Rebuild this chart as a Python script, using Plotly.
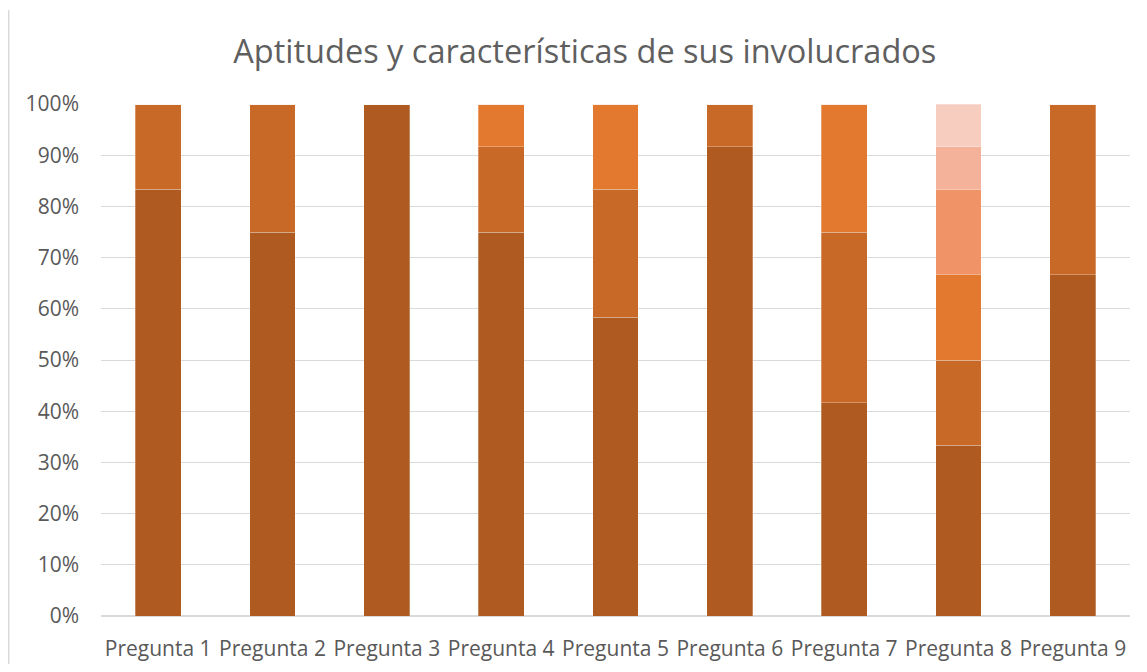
import plotly.graph_objects as go

categories = ["Pregunta 1", "Pregunta 2", "Pregunta 3", "Pregunta 4", "Pregunta 5",
              "Pregunta 6", "Pregunta 7", "Pregunta 8", "Pregunta 9"]
serie1 = [10, 9, 12, 9, 7, 11, 5, 4, 8]
serie2 = [2, 3, 0, 2, 3, 1, 4, 2, 4]
serie3 = [0, 0, 0, 1, 2, 0, 3, 2, 0]
serie4 = [0, 0, 0, 0, 0, 0, 0, 2, 0]
serie5 = [0, 0, 0, 0, 0, 0, 0, 1, 0]
serie6 = [0, 0, 0, 0, 0, 0, 0, 1, 0]
series = [serie1, serie2, serie3, serie4, serie5, serie6]
names = ["Serie 1", "Serie 2", "Serie 3", "Serie 4", "Serie 5", "Serie 6"]
colors = ["#AE5A21", "#C96928", "#E2792F", "#F09467", "#F4B29A", "#F7CDBF"]
yticks = [0, 10, 20, 30, 40, 50, 60, 70, 80, 90, 100]

fig = go.Figure()
for name, vals, col in zip(names, series, colors):
    fig.add_trace(go.Bar(
        x=categories, y=vals, name=name,
        marker=dict(color=col, line=dict(color="rgba(255,255,255,0.35)", width=0.8)),
    ))

font_family = "Open Sans, Liberation Sans, sans-serif"
fig.update_layout(
    barmode="stack", barnorm="percent",
    width=1131, height=656,
    margin=dict(l=93, r=9, t=96, b=48),
    paper_bgcolor="white", plot_bgcolor="white",
    showlegend=False,
    bargap=0.6,
    title=dict(text="Aptitudes y características de sus involucrados",
               x=0.510, xanchor="center", y=0.933, yanchor="middle",
               font=dict(family=font_family, size=32.5, color="#5F5F5F")),
    font=dict(family=font_family, size=21, color="#595959"),
    xaxis=dict(showgrid=False, showline=False, ticks="", ticklabelstandoff=18,
               automargin=False, tickfont=dict(size=21, color="#595959")),
    yaxis=dict(range=[0, 100], tickvals=yticks, ticktext=[f"{v}%" for v in yticks],
               showgrid=True, gridcolor="#D9D9D9", gridwidth=1, zeroline=True,
               zerolinecolor="#D9D9D9", showline=False, ticks="", ticklabelstandoff=21,
               automargin=False, tickfont=dict(size=21, color="#595959")),
)
fig.add_shape(type="line", xref="paper", yref="paper", x0=-0.0897, x1=-0.0897, y0=-0.2, y1=1.1836,
              line=dict(color="#D9D9D9", width=1.5))
fig.write_html("out.html")
